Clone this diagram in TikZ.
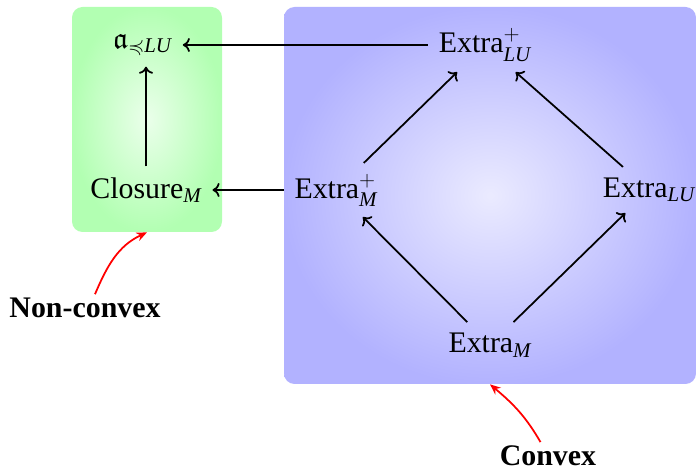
\documentclass[tikz,border=0pt]{standalone}
\usepackage{amsmath}
\usepackage{amssymb}
\usepackage{fontspec}
\setmainfont{Liberation Serif}
\usetikzlibrary{positioning,arrows.meta,shapes,calc}

\begin{document}
\begin{tikzpicture}[
  zone/.style={rectangle,rounded corners=6pt,shading=radial,inner color=#1!8,outer color=#1!30,draw=none},
  obj/.style={font=\fontsize{17}{20}\selectfont,inner sep=6pt},
  map/.style={-{To[length=4pt,width=8pt]},line width=1pt,black},
  note/.style={-{Stealth[length=6pt,width=5pt]},line width=1pt,red},
  kind/.style={font=\fontsize{17}{20}\selectfont\bfseries,inner sep=2pt},
]
\useasboundingbox (0,0) rectangle (13.94,9.42);

% Zones
\node[zone=green,minimum width=3.0cm,minimum height=4.5cm] (G) at (2.94,7.03) {};
\node[zone=blue,minimum width=8.24cm,minimum height=7.54cm] (B) at (9.80,5.51) {};

% Objects
\node[obj] (A) at (2.85,8.52) {$\mathfrak{a}_{\preccurlyeq\textit{LU}}$};
\node[obj] (EPLU) at (9.70,8.52) {Extra$^{+}_{\textit{LU}}$};
\node[obj] (CM) at (2.92,5.62) {Closure$_{\textit{M}}$};
\node[obj] (EPM) at (6.72,5.62) {Extra$^{+}_{\textit{M}}$};
\node[obj] (ELU) at (12.98,5.62) {Extra$_{\textit{LU}}$};
\node[obj] (EM) at (9.80,2.52) {Extra$_{\textit{M}}$};

% Maps
\draw[map] (EPLU) -- (A);
\draw[map] (CM) -- (CM |- A.south);
\draw[map] (EPM) -- (CM);
\draw[map] (EPM) -- (EPLU);
\draw[map] (ELU) -- (EPLU);
\draw[map] (EM) -- (EPM);
\draw[map] (EM) -- (ELU);

% Labels
\node[kind] (NC) at (1.70,3.26) {Non-convex};
\node[kind] (CV) at (10.96,0.30) {Convex};
\draw[note] ([xshift=0.2cm]NC.north) to[out=67,in=205] (G.south);
\draw[note] ([xshift=-0.15cm]CV.north) to[out=120,in=-40] (B.south);

\end{tikzpicture}
\end{document}
